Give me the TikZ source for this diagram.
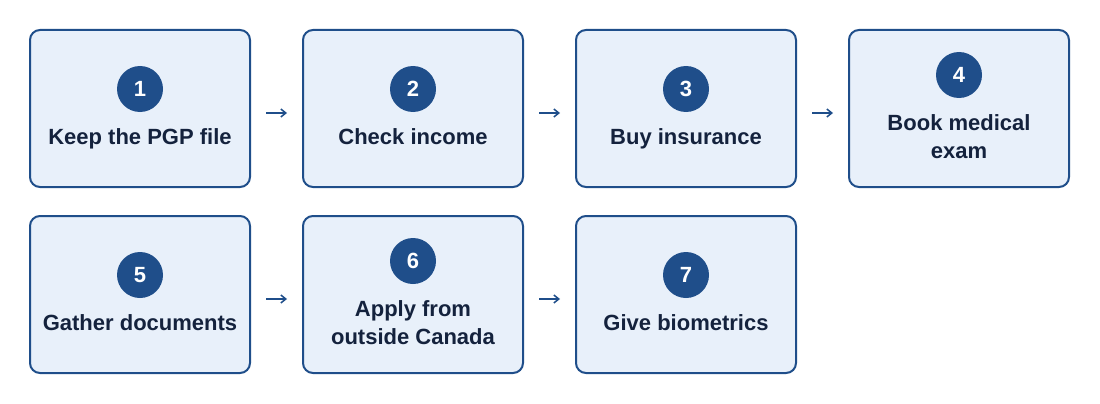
\documentclass[tikz,border=0pt]{standalone}
\usepackage{fontspec}
\setmainfont{Liberation Sans}
\usetikzlibrary{arrows.meta,positioning}
\definecolor{stepblue}{HTML}{1F4E8A}
\definecolor{stepfill}{HTML}{E8F0FA}
\definecolor{stepink}{HTML}{14223D}
\tikzset{stepbox/.style={draw=stepblue,line width=2pt,rounded corners=10pt,fill=stepfill,
  minimum width=220pt,minimum height=157pt,inner sep=0pt},
  badge/.style={circle,fill=stepblue,text=white,minimum size=46pt,inner sep=0pt,
  font=\bfseries\fontsize{22}{26}\selectfont},
  steptext/.style={below=16pt of #1,inner sep=0pt,align=center,text=stepink,
  font=\bfseries\fontsize{22}{28}\selectfont},
  flow/.style={-{Straight Barb[length=5pt,width=8pt]},line width=1.5pt,draw=stepblue,
  shorten <=15pt,shorten >=15pt}}

\begin{document}
\begin{tikzpicture}[x=1pt,y=1pt]
\useasboundingbox (0,0) rectangle (1100,-404);
% first row
\node[stepbox] (b1) at (140,-108.5) {};
\node[stepbox] (b2) at (413,-108.5) {};
\node[stepbox] (b3) at (686,-108.5) {};
\node[stepbox] (b4) at (959,-108.5) {};
% second row
\node[stepbox] (b5) at (140,-294.5) {};
\node[stepbox] (b6) at (413,-294.5) {};
\node[stepbox] (b7) at (686,-294.5) {};
% numbers and labels
\node[badge] (n1) at ([yshift=19.5pt]b1.center) {1};
\node[steptext=n1] (t1) {Keep the PGP file};
\node[badge] (n2) at ([yshift=19.5pt]b2.center) {2};
\node[steptext=n2] (t2) {Check income};
\node[badge] (n3) at ([yshift=19.5pt]b3.center) {3};
\node[steptext=n3] (t3) {Buy insurance};
\node[badge] (n4) at ([yshift=33.5pt]b4.center) {4};
\node[steptext=n4] (t4) {Book medical\\exam};
\node[badge] (n5) at ([yshift=19.5pt]b5.center) {5};
\node[steptext=n5] (t5) {Gather documents};
\node[badge] (n6) at ([yshift=33.5pt]b6.center) {6};
\node[steptext=n6] (t6) {Apply from\\outside Canada};
\node[badge] (n7) at ([yshift=19.5pt]b7.center) {7};
\node[steptext=n7] (t7) {Give biometrics};
% arrows
\draw[flow] ([yshift=-4.5pt]b1.east) -- ([yshift=-4.5pt]b2.west);
\draw[flow] ([yshift=-4.5pt]b2.east) -- ([yshift=-4.5pt]b3.west);
\draw[flow] ([yshift=-4.5pt]b3.east) -- ([yshift=-4.5pt]b4.west);
\draw[flow] ([yshift=-4.5pt]b5.east) -- ([yshift=-4.5pt]b6.west);
\draw[flow] ([yshift=-4.5pt]b6.east) -- ([yshift=-4.5pt]b7.west);
\end{tikzpicture}
\end{document}
